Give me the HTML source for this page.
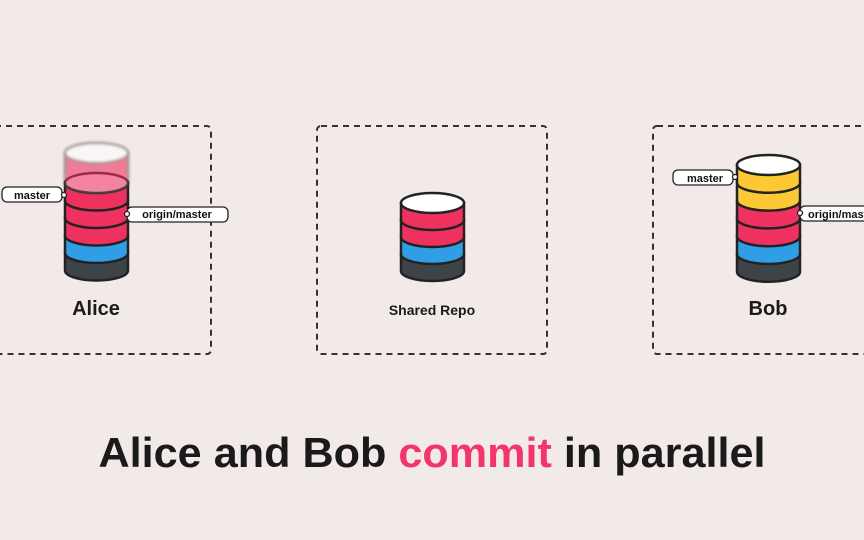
<!DOCTYPE html>
<html><head><meta charset="utf-8"><style>
html,body{margin:0;padding:0;background:#f1eae8;}
svg{display:block;font-family:"Liberation Sans",sans-serif;font-weight:bold;}
</style></head><body>
<svg width="864" height="540" viewBox="0 0 864 540">
<defs><filter id="bl"><feGaussianBlur stdDeviation="1.2"/></filter></defs>
<g fill="none" stroke="#333" stroke-width="2" stroke-dasharray="6 5">
<rect x="-20" y="126" width="231" height="228" rx="4"/>
<rect x="317" y="126" width="230" height="228" rx="4"/>
<rect x="653" y="126" width="240" height="228" rx="4"/>
</g>
<g stroke="#222" stroke-width="2.5" id="cyls"></g>
<text x="96" y="315" font-size="20" text-anchor="middle" fill="#1a1a1a">Alice</text>
<text x="432" y="315" font-size="14" text-anchor="middle" fill="#1a1a1a">Shared Repo</text>
<text x="768" y="315" font-size="20" text-anchor="middle" fill="#1a1a1a">Bob</text>
<text x="432" y="467" font-size="42" text-anchor="middle" fill="#1a1a1a" textLength="667" lengthAdjust="spacingAndGlyphs">Alice and Bob <tspan fill="#f2356a">commit</tspan> in parallel</text>
<g stroke="#222" stroke-width="1.3" fill="#fff">
<rect x="2" y="187" width="60" height="15" rx="5"/>
<rect x="127" y="207" width="101" height="15" rx="5"/>
<rect x="673" y="170" width="60" height="15" rx="5"/>
<rect x="800" y="206" width="80" height="15" rx="5"/>
<circle cx="64" cy="195" r="2.5"/><circle cx="127" cy="214" r="2.5"/>
<circle cx="735" cy="177" r="2.5"/><circle cx="800" cy="213" r="2.5"/>
</g>
<g font-size="11" fill="#111">
<text x="32" y="199" text-anchor="middle">master</text>
<text x="177" y="218" text-anchor="middle">origin/master</text>
<text x="705" y="182" text-anchor="middle">master</text>
<text x="808" y="218">origin/master</text>
</g>
</svg>
<script>
var NS="http://www.w3.org/2000/svg",g=document.getElementById("cyls");
var R="#ef3160",B="#2f9ee6",D="#3d4448",Y="#fcc934";
function cyl(cx,top,layers,h){var rx=31.5,ry=10,L=cx-rx,Rr=cx+rx;
 for(var i=layers.length-1;i>=0;i--){var cy=top+i*h;var p=document.createElementNS(NS,"path");
 p.setAttribute("d","M"+L+","+cy+" V"+(cy+h)+" A"+rx+" "+ry+" 0 0 0 "+Rr+","+(cy+h)+" V"+cy+" Z");
 p.setAttribute("fill",layers[i]);g.appendChild(p);}
 var e=document.createElementNS(NS,"ellipse");e.setAttribute("cx",cx);e.setAttribute("cy",top);
 e.setAttribute("rx",rx);e.setAttribute("ry",ry);e.setAttribute("fill","#fff");g.appendChild(e);}
cyl(96.5,183,[R,R,R,B,D],17.5);
cyl(432.5,203,[R,R,B,D],17);
cyl(768.5,165,[Y,Y,R,R,B,D],17.8);
// ghost
var gg=document.createElementNS(NS,"g");gg.setAttribute("opacity","0.6");gg.setAttribute("filter","url(#bl)");
gg.innerHTML='<path d="M65,153 V183 A31.5 10 0 0 0 128,183 V153 Z" fill="#ef3160" stroke="#555" stroke-width="2.5"/><ellipse cx="96.5" cy="153" rx="31.5" ry="10" fill="#fff" stroke="#555" stroke-width="2.5"/>';
g.appendChild(gg);
</script>
</body></html>
